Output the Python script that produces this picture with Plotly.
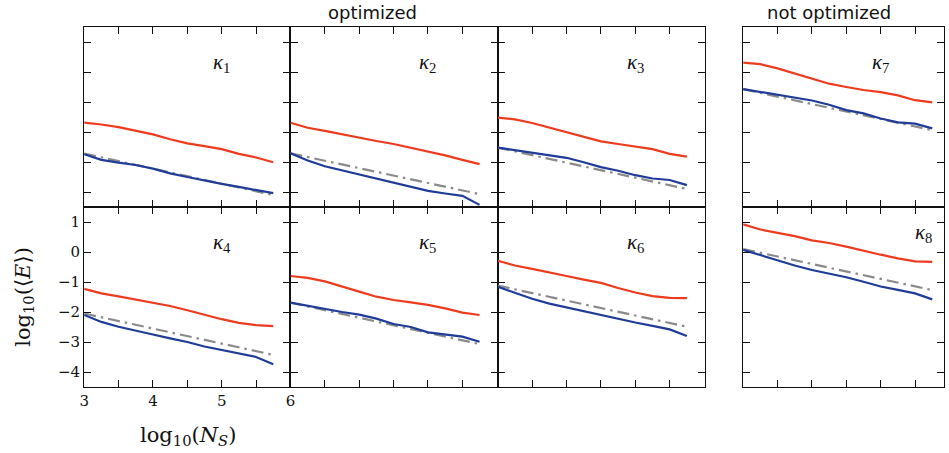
import plotly.graph_objects as go

W, H = 949, 453

log_ns = [3.0, 3.25, 3.5, 3.75, 4.0, 4.25, 4.5, 4.75, 5.0, 5.25, 5.5, 5.75]
ref_x = [3.0, 5.75]

red_k1 = [-1.69, -1.75, -1.84, -1.95, -2.08, -2.24, -2.38, -2.47, -2.57, -2.73, -2.85, -3.01]
blue_k1 = [-2.74, -2.93, -3.02, -3.10, -3.22, -3.38, -3.50, -3.62, -3.73, -3.83, -3.93, -4.04]
gray_k1 = [-2.72, -4.10]

red_k2 = [-1.69, -1.86, -1.96, -2.08, -2.20, -2.30, -2.40, -2.52, -2.65, -2.78, -2.93, -3.07]
blue_k2 = [-2.71, -2.95, -3.14, -3.28, -3.42, -3.56, -3.69, -3.82, -3.96, -4.05, -4.13, -4.43]
gray_k2 = [-2.71, -4.07]

red_k3 = [-1.52, -1.58, -1.70, -1.85, -1.99, -2.16, -2.31, -2.40, -2.48, -2.57, -2.73, -2.82]
blue_k3 = [-2.52, -2.61, -2.70, -2.78, -2.86, -3.01, -3.17, -3.29, -3.44, -3.55, -3.60, -3.77]
gray_k3 = [-2.52, -3.90]

red_k4 = [-1.23, -1.38, -1.48, -1.58, -1.70, -1.80, -1.94, -2.10, -2.24, -2.36, -2.44, -2.47]
blue_k4 = [-2.10, -2.33, -2.49, -2.63, -2.75, -2.88, -3.00, -3.15, -3.26, -3.38, -3.50, -3.74]
gray_k4 = [-2.05, -3.43]

red_k5 = [-0.80, -0.86, -0.98, -1.16, -1.32, -1.49, -1.60, -1.68, -1.76, -1.88, -2.02, -2.10]
blue_k5 = [-1.69, -1.80, -1.90, -2.00, -2.09, -2.22, -2.40, -2.50, -2.68, -2.76, -2.82, -2.99]
gray_k5 = [-1.69, -3.07]

red_k6 = [-0.29, -0.45, -0.56, -0.67, -0.80, -0.92, -1.03, -1.20, -1.35, -1.47, -1.53, -1.54]
blue_k6 = [-1.16, -1.37, -1.56, -1.72, -1.85, -1.97, -2.09, -2.23, -2.35, -2.46, -2.58, -2.80]
gray_k6 = [-1.12, -2.49]

red_k7 = [0.31, 0.26, 0.12, -0.05, -0.20, -0.39, -0.50, -0.60, -0.67, -0.78, -0.94, -1.01]
blue_k7 = [-0.57, -0.66, -0.76, -0.86, -0.95, -1.09, -1.27, -1.38, -1.55, -1.68, -1.72, -1.88]
gray_k7 = [-0.57, -1.94]

red_k8 = [0.92, 0.75, 0.64, 0.53, 0.39, 0.30, 0.18, 0.04, -0.09, -0.21, -0.31, -0.33]
blue_k8 = [0.07, -0.11, -0.28, -0.45, -0.60, -0.72, -0.84, -0.99, -1.15, -1.26, -1.38, -1.58]
gray_k8 = [0.10, -1.27]

panel_labels = ["κ1", "κ2", "κ3", "κ4", "κ5", "κ6", "κ7", "κ8"]
x_tick_vals = [3, 4, 5, 6]
x_tick_text = ["3", "4", "5", "6"]
x_minor_vals = [3.5, 4.5, 5.5]
y_tick_vals = [-4, -3, -2, -1, 0, 1]
y_tick_text = ["\u22124", "\u22123", "\u22122", "\u22121", "0", "1"]
titles = ["optimized", "not optimized"]

series = {
    1: (red_k1, blue_k1, gray_k1),
    2: (red_k2, blue_k2, gray_k2),
    3: (red_k3, blue_k3, gray_k3),
    4: (red_k4, blue_k4, gray_k4),
    5: (red_k5, blue_k5, gray_k5),
    6: (red_k6, blue_k6, gray_k6),
    7: (red_k7, blue_k7, gray_k7),
    8: (red_k8, blue_k8, gray_k8),
}

RED = "#ee3b1e"
BLUE = "#1f3c98"
GRAY = "#8a8a8a"
SERIF = "DejaVu Serif"
KFONT = "Liberation Serif"
SANS = "DejaVu Sans"

cols_px = [(80, 288.5), (288.5, 498), (498, 707.5), (746, 949)]
rows_px = [(27, 207), (207, 387)]
pos = {1: (0, 0), 2: (0, 1), 3: (0, 2), 7: (0, 3),
       4: (1, 0), 5: (1, 1), 6: (1, 2), 8: (1, 3)}
px_per_unit = (288.5 - 80) / 3.0

fig = go.Figure()
layout = dict(width=W, height=H, margin=dict(l=0, r=0, t=0, b=0),
              paper_bgcolor="white", plot_bgcolor="white", showlegend=False)
annotations = []

for k in range(1, 9):
    r, c = pos[k]
    ax = "" if k == 1 else str(k)
    x0, x1 = cols_px[c]
    y0, y1 = rows_px[r]
    xr_end = 3 + (x1 - x0) / px_per_unit
    red, blue, gray = series[k]
    fig.add_trace(go.Scatter(x=ref_x, y=gray, mode="lines",
                             line=dict(color=GRAY, width=2.2, dash="12px,5px,2.5px,5px"),
                             xaxis="x" + ax, yaxis="y" + ax))
    fig.add_trace(go.Scatter(x=log_ns, y=red, mode="lines",
                             line=dict(color=RED, width=2.2),
                             xaxis="x" + ax, yaxis="y" + ax))
    fig.add_trace(go.Scatter(x=log_ns, y=blue, mode="lines",
                             line=dict(color=BLUE, width=2.2),
                             xaxis="x" + ax, yaxis="y" + ax))
    show = (k == 4)
    common = dict(ticks="inside", ticklen=7, tickwidth=1.2, tickcolor="#111",
                  showline=True, linecolor="#111", linewidth=1.3,
                  mirror="ticks", showgrid=False, zeroline=False,
                  tickfont=dict(family=SERIF, size=15, color="#111"))
    layout["xaxis" + ax] = dict(
        domain=[x0 / W, x1 / W], anchor="y" + ax, range=[3, xr_end],
        tickmode="array", tickvals=x_tick_vals, ticktext=x_tick_text,
        showticklabels=show,
        minor=dict(tickmode="array", tickvals=x_minor_vals, ticks="inside",
                   ticklen=7, tickwidth=1.2, tickcolor="#111", showgrid=False),
        **common)
    layout["yaxis" + ax] = dict(
        domain=[1 - y1 / H, 1 - y0 / H], anchor="x" + ax, range=[-4.5, 1.5],
        tickmode="array", tickvals=y_tick_vals, ticktext=y_tick_text,
        showticklabels=show, **common)
    lab = panel_labels[k - 1]
    lx, ly = (5.62, 0.62) if k == 8 else (5.0, 0.3)
    annotations.append(dict(
        x=lx, y=ly, xref="x" + ax, yref="y" + ax, showarrow=False,
        xanchor="center", yanchor="middle",
        text="<i>" + lab[0] + "</i><sub>" + lab[1:] + "</sub>",
        font=dict(family=KFONT, size=21, color="#111")))

annotations.append(dict(x=371 / W, y=1 - 12 / H, xref="paper", yref="paper",
                        showarrow=False, text=titles[0],
                        xanchor="center", yanchor="middle",
                        font=dict(family=SANS, size=18, color="#111")))
annotations.append(dict(x=833 / W, y=1 - 12 / H, xref="paper", yref="paper",
                        showarrow=False, text=titles[1],
                        xanchor="center", yanchor="middle",
                        font=dict(family=SANS, size=18, color="#111")))
annotations.append(dict(x=185 / W, y=1 - 436 / H, xref="paper", yref="paper",
                        showarrow=False, xanchor="center", yanchor="middle",
                        text="log<sub>10</sub>(<i>N</i><sub><i>S</i></sub>)",
                        font=dict(family=SERIF, size=21, color="#111")))
annotations.append(dict(x=19 / W, y=1 - 297 / H, xref="paper", yref="paper",
                        showarrow=False, textangle=-90,
                        xanchor="center", yanchor="middle",
                        text="log<sub>10</sub>(\u27e8<i>E</i>\u27e9)",
                        font=dict(family=SERIF, size=21, color="#111")))
layout["annotations"] = annotations
fig.update_layout(**layout)
fig.write_html("out.html")
